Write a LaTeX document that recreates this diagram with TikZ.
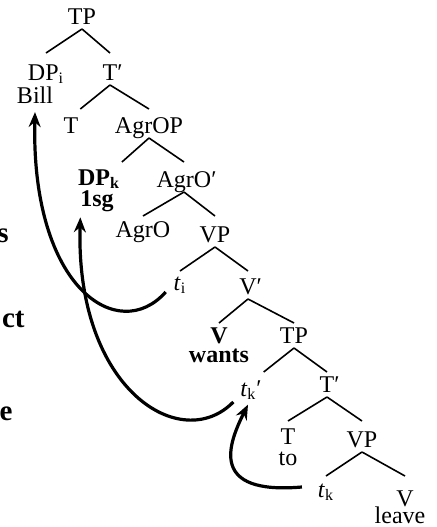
\documentclass[tikz,border=0pt]{standalone}
\usepackage{fontspec}
\setmainfont{Liberation Serif}
\usetikzlibrary{arrows.meta}

\begin{document}
\begin{tikzpicture}[x=0.5pt, y=-0.5pt, font=\fontsize{12}{14}\selectfont,
    cat/.style={anchor=base, inner sep=1pt, outer sep=0pt},
    branch/.style={line width=0.8pt},
    movement/.style={line width=1.6pt, -{Stealth[length=7.5pt, width=6pt, inset=2.5pt]}},
    cutword/.style={anchor=base east, inner sep=0pt, font=\fontsize{14.5}{16}\selectfont\bfseries}]
    \useasboundingbox (0,0) rectangle (436,527);

    \node[cutword] (sfrag) at (9,242) {s};
    \node[cutword] (ctfrag) at (25,327) {ct};
    \node[cutword] (efrag) at (13,420) {e};

    \node[cat] (tp) at (82,24) {TP};
    \node[cat] (dpi) at (46,80) {DP\textsubscript{i}};
    \node[cat] (bill) at (35,103) {Bill};
    \node[cat] (tbar) at (110,80) {T\rlap{′}};
    \node[cat] (t) at (71,133) {T};
    \node[cat] (agrop) at (149,133) {AgrOP};
    \node[cat] (dpk) at (99,185) {\textbf{DP\textsubscript{k}}};
    \node[cat] (sg) at (97,206) {\textbf{1sg}};
    \node[cat] (agrobar) at (184,187) {AgrO\rlap{′}};
    \node[cat] (agro) at (143,237) {AgrO};
    \node[cat] (vp) at (215,242) {VP};
    \node[cat] (ti) at (180,290) {\textit{t}\textsubscript{i}};
    \node[cat] (vbar) at (248,294) {V\rlap{′}};
    \node[cat] (v) at (219,343) {\textbf{V}};
    \node[cat] (wants) at (219,362) {\textbf{wants}};
    \node[cat] (tpb) at (294,343) {TP};
    \node[cat] (tkp) at (251,396) {\textit{t}\textsubscript{k}′};
    \node[cat] (tbarb) at (327,392) {T\rlap{′}};
    \node[cat] (tb) at (288,444) {T};
    \node[cat] (to) at (288,465) {to};
    \node[cat] (vpb) at (362,447) {VP};
    \node[cat] (tk) at (326,497) {\textit{t}\textsubscript{k}};
    \node[cat] (vb) at (405,506) {V};
    \node[cat] (leave) at (400,523) {leave};

    \foreach \mother/\daughter/\anc in {tp/dpi/base, tp/tbar/base, tbar/t/base east, tbar/agrop/base,
            agrop/dpk/base east, agrop/agrobar/base, agrobar/agro/base, agrobar/vp/base,
            vp/ti/base, vp/vbar/base, vbar/v/base, vbar/tpb/base, tpb/tkp/base east, tpb/tbarb/base,
            tbarb/tb/base, tbarb/vpb/base, vpb/tk/base, vpb/vb/base}
        \draw[branch] ([yshift=-2.5pt]\mother.base) -- ([yshift=-14.5pt]\daughter.\anc |- \mother.base);

    \draw[movement] ([shift={(-3pt,-1pt)}]ti.base west) .. controls +(-47,53) and +(-4,177) .. ([yshift=-3.5pt]bill.south);
    \draw[movement] ([shift={(-2.5pt,-3pt)}]tkp.base west) .. controls +(-52,53) and +(-5,173) .. ([shift={(1pt,-2pt)}]sg.south west);
    \draw[movement] ([shift={(-7pt,5pt)}]tk.base west) .. controls +(-93,8) and +(-20,40) .. ([shift={(-1.5pt,-1.5pt)}]tkp.south);
\end{tikzpicture}
\end{document}
